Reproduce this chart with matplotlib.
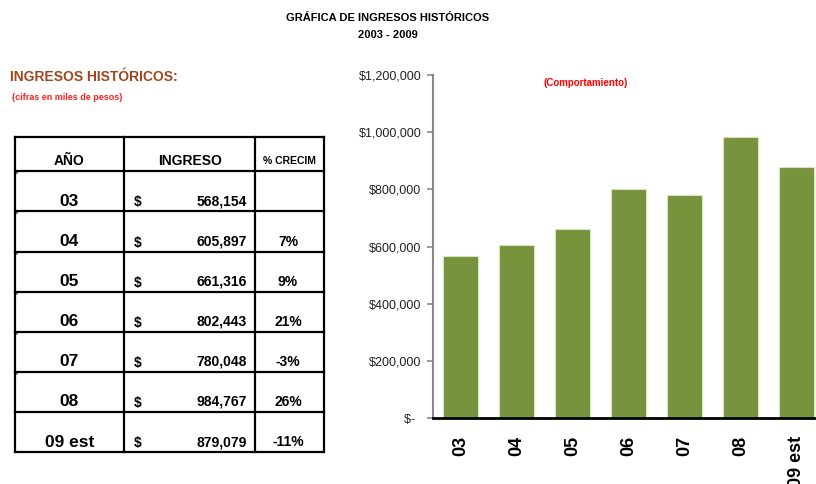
import matplotlib
matplotlib.use("Agg")
import matplotlib.pyplot as plt
from matplotlib.patches import Polygon
from matplotlib.ticker import FuncFormatter

plt.rcParams['font.family'] = ['Liberation Sans', 'DejaVu Sans']

# ---- data ----
years = ["03", "04", "05", "06", "07", "08", "09 est"]
ingresos = [568154, 605897, 661316, 802443, 780048, 984767, 879079]
crecim = ["", "7%", "9%", "21%", "-3%", "26%", "-11%"]
yticks = [0, 200000, 400000, 600000, 800000, 1000000, 1200000]

W, H = 816, 484
fig = plt.figure(figsize=(W / 100, H / 100), dpi=100)

# ---- bar chart ----
ax = fig.add_axes([432.7 / W, (H - 418) / H, 392 / W, 343 / H])
x = list(range(len(years)))
ax.bar(x, ingresos, width=0.63, color="#77933C", edgecolor="#D7E4BD", linewidth=0.8, zorder=2)
ax.set_xlim(-0.5, len(years) - 0.5)
ax.set_ylim(0, 1200000)
ax.set_yticks(yticks)

def fmt(v, pos):
    if v == 0:
        return "$-  "
    return "${:,.0f}".format(v)

ax.yaxis.set_major_formatter(FuncFormatter(fmt))
ax.set_xticks(x)
ax.set_xticklabels(years, rotation=90, fontsize=13, fontweight="bold")
ax.tick_params(axis="x", length=0, pad=13)
ax.tick_params(axis="y", length=4, width=1.2, color="#888888", labelsize=9, labelcolor="#222222", pad=4)
for s in ["top", "right"]:
    ax.spines[s].set_visible(False)
ax.spines["left"].set_color("#888888")
ax.spines["left"].set_linewidth(1.5)
ax.spines["bottom"].set_color("black")
ax.spines["bottom"].set_linewidth(2)
ax.text(0.391, 0.977, "(Comportamiento)", transform=ax.transAxes, color="#FF0000",
        fontsize=7, fontweight="bold", ha="center", va="center")

# ---- overlay for texts and table ----
tax = fig.add_axes([0, 0, 1, 1])
tax.set_xlim(0, W)
tax.set_ylim(H, 0)
tax.axis("off")
tax.patch.set_alpha(0)

tax.text(388, 18, "GRÁFICA DE INGRESOS HISTÓRICOS", ha="center", va="center",
         fontsize=8, fontweight="bold")
tax.text(388, 35, "2003 - 2009", ha="center", va="center", fontsize=8, fontweight="bold")
tax.text(10, 77, "INGRESOS HISTÓRICOS:", ha="left", va="center", fontsize=10,
         fontweight="bold", color="#A0461E")
tax.text(12, 97, "(cifras en miles de pesos)", ha="left", va="center", fontsize=6.5,
         fontweight="bold", color="#FF2020")

# table geometry
xl, xc1, xc2, xr = 14.7, 124, 255.3, 324.3
rows = [137.3, 171, 211, 251.7, 291.7, 331.7, 371.7, 411.7, 452.3]
lw = 1.6
for yv in rows:
    tax.plot([xl, xr], [yv, yv], color="black", lw=lw, solid_capstyle="projecting")
for xv in [xl, xc1, xc2, xr]:
    tax.plot([xv, xv], [rows[0], rows[-1]], color="black", lw=lw, solid_capstyle="projecting")

hy = 161
tax.text((xl + xc1) / 2, hy, "AÑO", ha="center", va="center", fontsize=10, fontweight="bold")
tax.text((xc1 + xc2) / 2, hy, "INGRESO", ha="center", va="center", fontsize=10, fontweight="bold")
tax.text((xc2 + xr) / 2, hy, "% CRECIM", ha="center", va="center", fontsize=7.5, fontweight="bold")

for i, (yr, val, pc) in enumerate(zip(years, ingresos, crecim)):
    bottom = rows[i + 2]
    cy = bottom - 10
    tax.text((xl + xc1) / 2, cy, yr, ha="center", va="center", fontsize=12.5, fontweight="bold")
    tax.text(134, cy + 1, "$", ha="left", va="center", fontsize=10, fontweight="bold")
    tax.text(247, cy, "{:,}".format(val), ha="right", va="center", fontsize=10, fontweight="bold")
    if pc:
        tax.text(288, cy, pc, ha="center", va="center", fontsize=10, fontweight="bold")
    if i < len(years) - 1:
        top = rows[i + 1]
        tax.add_patch(Polygon([[xl + 1, top + 1], [xl + 4, top + 1], [xl + 1, top + 4]],
                              closed=True, color="#1E8C1E", lw=0))

fig.savefig("out.png", dpi=100)
